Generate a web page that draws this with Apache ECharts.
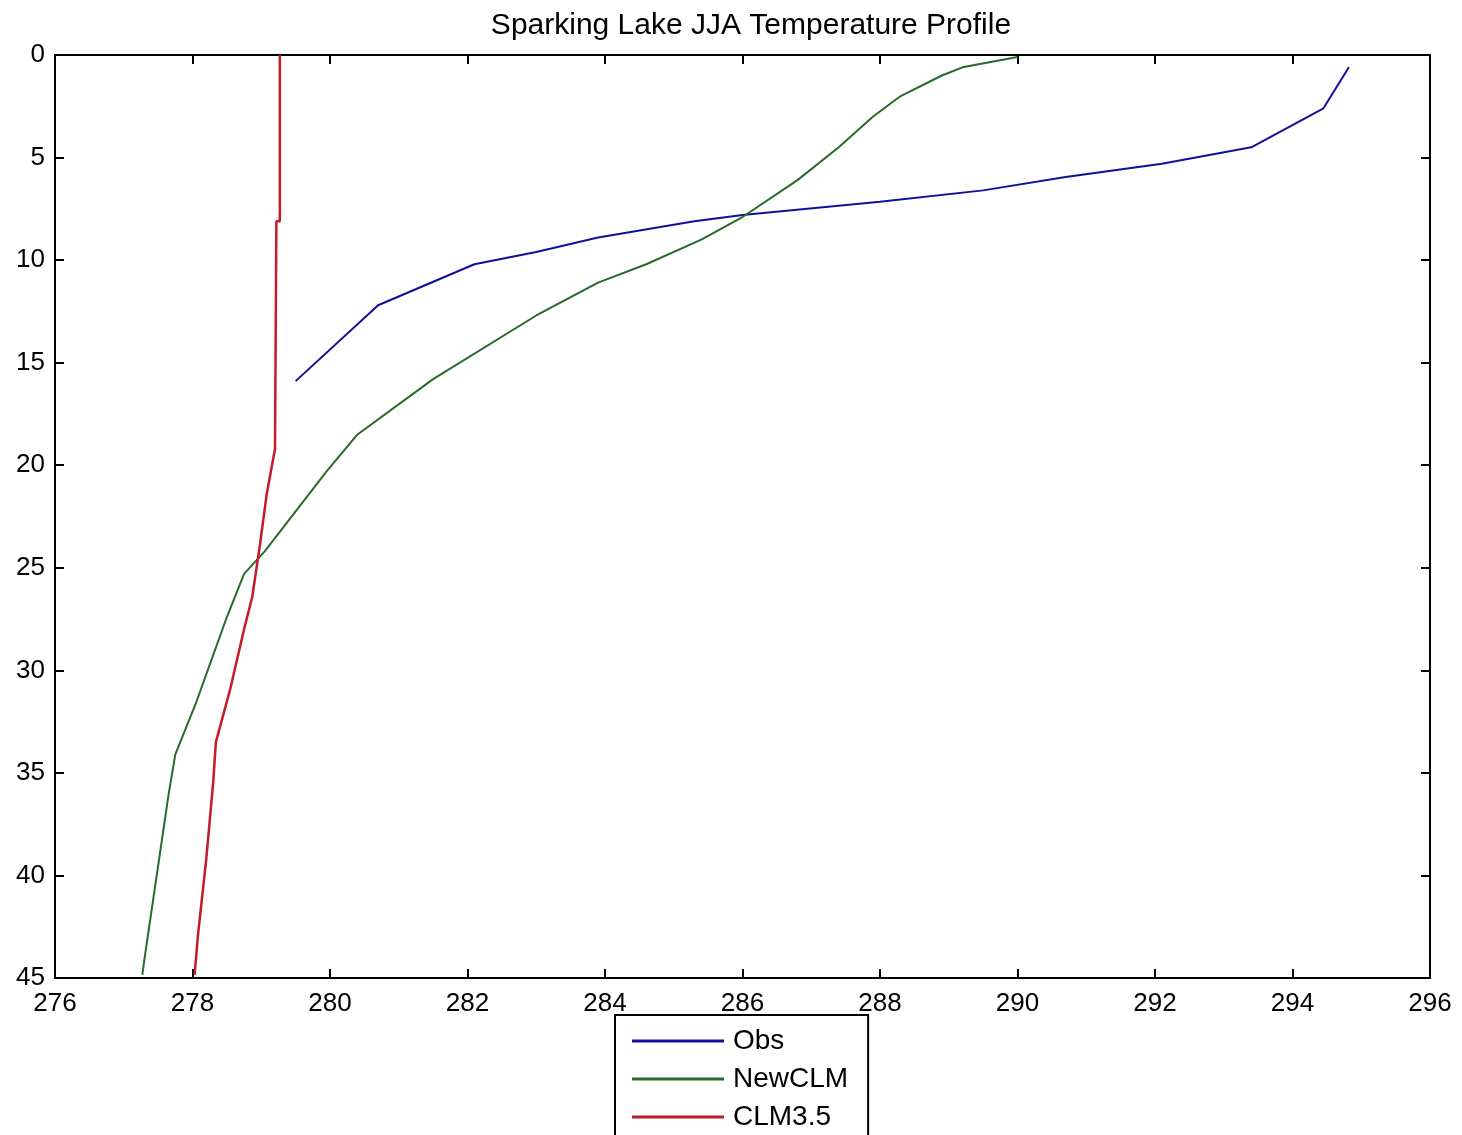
<!DOCTYPE html>
<html>
<head>
<meta charset="utf-8">
<title>Sparking Lake JJA Temperature Profile</title>
<script src="https://cdn.jsdelivr.net/npm/echarts@6/dist/echarts.min.js"></script>
<style>
  html, body { margin: 0; padding: 0; background: #fff; }
  #chart { width: 1462px; height: 1135px; }
</style>
</head>
<body>
<div id="chart"></div>
<script>
// temperature (K) / depth (m) pairs
const obsTemp = [294.82, 294.45, 293.4, 292.1, 290.7, 289.5, 288.0, 286.0, 285.3, 283.9, 283.0, 282.1, 280.7, 279.5]
const obsDepth = [0.6, 2.6, 4.5, 5.3, 5.95, 6.6, 7.15, 7.8, 8.1, 8.9, 9.6, 10.2, 12.2, 15.9]

const newTemp = [290.0, 289.2, 288.9, 288.3, 287.9, 287.4, 286.8, 286.0, 285.4, 284.6, 283.9, 283.0, 281.5, 280.4, 279.95, 279.05, 278.75, 278.5, 278.05, 277.75, 277.65, 277.3, 277.27]
const newDepth = [0.1, 0.6, 1.0, 2.0, 3.0, 4.5, 6.1, 7.9, 9.0, 10.2, 11.1, 12.7, 15.8, 18.5, 20.3, 24.2, 25.3, 27.4, 31.6, 34.1, 36.1, 44.1, 44.85]

const clmTemp = [279.27, 279.27, 279.22, 279.2, 279.08, 278.98, 278.87, 278.75, 278.55, 278.34, 278.3, 278.2, 278.08, 278.03]
const clmDepth = [0, 8.1, 8.1, 19.2, 21.4, 23.9, 26.4, 28.0, 30.9, 33.5, 35.5, 39.2, 42.9, 44.85]

const seriesNames = ['Obs', 'NewCLM', 'CLM3.5']
const seriesColors = ['#10109a', '#266b2a', '#c41a2a']

const pairs = (xs, ys) => xs.map((x, i) => [x, ys[i]])

const font = "'Liberation Sans', Arial, sans-serif"

const chart = echarts.init(document.getElementById('chart'))

const tempAxis = (pos, showLabel) => ({
  type: 'value',
  position: pos,
  min: 276,
  max: 296,
  interval: 2,
  axisLine: { show: true, onZero: false, lineStyle: { color: '#000', width: 2 } },
  axisTick: { show: true, inside: true, length: 9, lineStyle: { color: '#000', width: 2 } },
  axisLabel: { show: showLabel, color: '#000', fontSize: 26, fontFamily: font, margin: 13 },
  splitLine: { show: false }
})

const depthAxis = (pos, showLabel) => ({
  type: 'value',
  position: pos,
  inverse: true,
  min: 0,
  max: 45,
  interval: 5,
  axisLine: { show: true, onZero: false, lineStyle: { color: '#000', width: 2 } },
  axisTick: { show: true, inside: true, length: 9, lineStyle: { color: '#000', width: 2 } },
  axisLabel: { show: showLabel, color: '#000', fontSize: 26, fontFamily: font, margin: 10 },
  splitLine: { show: false }
})

chart.setOption({
  backgroundColor: '#fff',
  animation: false,
  title: {
    text: 'Sparking Lake JJA Temperature Profile',
    left: 746,
    textAlign: 'center',
    top: 6,
    textStyle: { color: '#000', fontSize: 30, fontWeight: 'normal', fontFamily: font }
  },
  grid: { left: 55, right: 32, top: 55, bottom: 157 },
  xAxis: [tempAxis('bottom', true), tempAxis('top', false)],
  yAxis: [depthAxis('left', true), depthAxis('right', false)],
  legend: {
    orient: 'vertical',
    left: 615,
    top: 1015,
    height: 200,
    data: seriesNames,
    icon: 'rect',
    itemWidth: 92,
    itemHeight: 3,
    itemGap: 10,
    padding: [12, 20, 30, 17],
    backgroundColor: '#fff',
    borderColor: '#000',
    borderWidth: 2,
    borderRadius: 0,
    textStyle: { color: '#000', fontSize: 28, fontFamily: font, lineHeight: 28, padding: [0, 0, 0, 4] }
  },
  series: [
    { name: seriesNames[0], data: pairs(obsTemp, obsDepth) },
    { name: seriesNames[1], data: pairs(newTemp, newDepth) },
    { name: seriesNames[2], data: pairs(clmTemp, clmDepth) }
  ].map((s, i) => ({
    ...s,
    type: 'line',
    xAxisIndex: 0,
    yAxisIndex: 0,
    showSymbol: false,
    symbol: 'none',
    color: seriesColors[i],
    lineStyle: { color: seriesColors[i], width: i === 2 ? 2.5 : 2 }
  }))
})
</script>
</body>
</html>
